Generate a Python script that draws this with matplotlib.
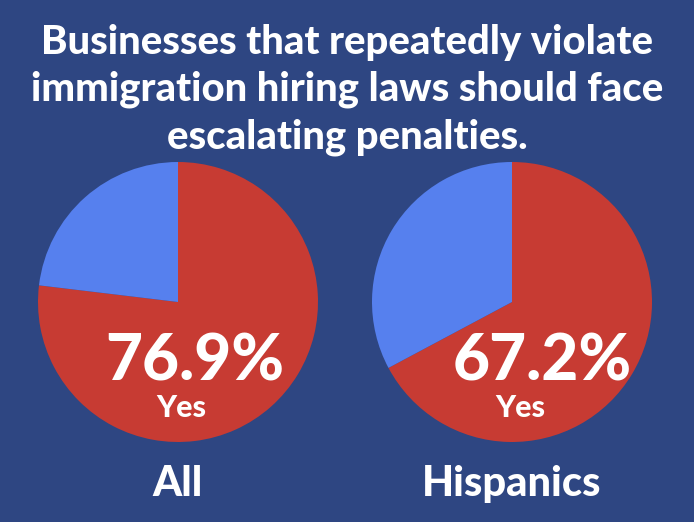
import matplotlib.pyplot as plt

groups = ["All", "Hispanics"]
yes_share = [76.9, 67.2]
title = "Businesses that repeatedly violate\nimmigration hiring laws should face\nescalating penalties."

bg = "#2E4682"
red = "#C73B33"
blue = "#5680EE"

W, H = 694, 522
fig = plt.figure(figsize=(W / 100, H / 100), dpi=100)
fig.patch.set_facecolor(bg)
font = ["Lato", "DejaVu Sans"]

fig.text(0.5, 1 - 90 / H, title, ha="center", va="center", color="white",
         fontsize=28.8, fontweight="black", family=font, linespacing=1.33)

centers = [178, 512]
pct_dx = [17, 30]
yes_dx = [3, 8]
r = 140
for cx, dx, ydx, name, val in zip(centers, pct_dx, yes_dx, groups, yes_share):
    ax = fig.add_axes([(cx - r) / W, 1 - (302 + r) / H, 2 * r / W, 2 * r / H])
    ax.pie([val, 100 - val], colors=[red, blue], startangle=90,
           counterclock=False, radius=1)
    ax.set_xlim(-1, 1)
    ax.set_ylim(-1, 1)
    ax.set_aspect("equal")
    ax.axis("off")
    fig.text((cx + dx) / W, 1 - 362 / H, f"{val}%", ha="center", va="center",
             color="white", fontsize=46, fontweight="black", family=font)
    fig.text((cx + ydx) / W, 1 - 408 / H, "Yes", ha="center", va="center",
             color="white", fontsize=22, fontweight="black", family=font)
    fig.text(cx / W, 1 - 484 / H, name, ha="center", va="center",
             color="white", fontsize=30, fontweight="black", family=font)

fig.savefig("out.png", dpi=100, facecolor=bg)
